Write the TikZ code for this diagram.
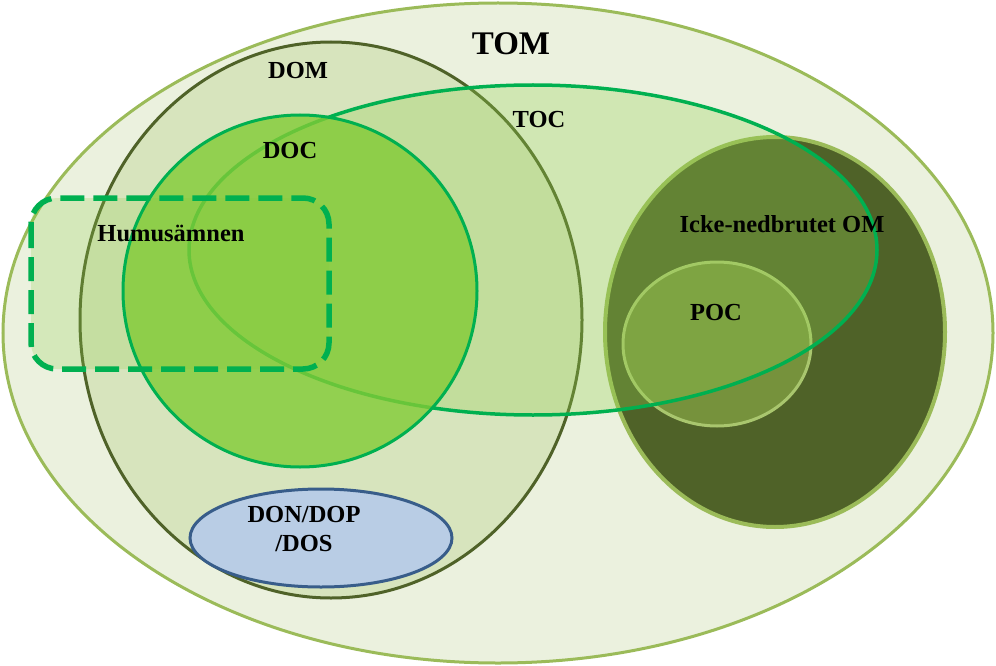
\documentclass[tikz,border=0pt]{standalone}
\usepackage{fontspec}
\setmainfont{Liberation Serif}
\definecolor{tomfill}{HTML}{EBF1DE}
\definecolor{tomline}{HTML}{9BBB59}
\definecolor{domfill}{HTML}{D7E4BD}
\definecolor{domline}{HTML}{4F6228}
\definecolor{ocgreen}{HTML}{92D050}
\definecolor{ocline}{HTML}{00B050}
\definecolor{docfill}{HTML}{81CB35}
\definecolor{omfill}{HTML}{4F6228}
\definecolor{pocfill}{HTML}{76923C}
\definecolor{pocline}{HTML}{A9C66E}
\definecolor{donfill}{HTML}{B9CDE5}
\definecolor{donline}{HTML}{385D8A}
\tikzset{
  lbl/.style={anchor=base, font=\bfseries\fontsize{24.5}{29}\selectfont, align=center},
  pool/.style={line width=3pt}
}
\begin{document}
\begin{tikzpicture}[x=1pt, y=-1pt]
  \useasboundingbox (0, 0) rectangle (996, 666);
  % outer pools
  \filldraw[pool, fill=tomfill, draw=tomline] (498, 333) ellipse [x radius=495, y radius=330];
  \filldraw[pool, fill=domfill, draw=domline] (331, 320) ellipse [x radius=251, y radius=278];
  \fill[ocgreen, opacity=0.25, rounded corners=26pt] (31, 198) rectangle (329, 369);
  % particulate side
  \filldraw[line width=4pt, fill=omfill, draw=tomline] (775, 332) ellipse [x radius=170, y radius=195];
  \filldraw[line width=3pt, fill=pocfill, draw=pocline] (717, 344) ellipse [x radius=94, y radius=82];
  % carbon pools
  \filldraw[line width=3.5pt, fill=ocgreen, fill opacity=0.3, draw=ocline] (533, 250) ellipse [x radius=344, y radius=165];
  \filldraw[pool, fill=docfill, fill opacity=0.8, draw=ocline] (300, 291) ellipse [x radius=177, y radius=176];
  \draw[line width=5.5pt, ocline, dash pattern=on 24pt off 9pt, rounded corners=26pt] (31, 198) rectangle (329, 369);
  \filldraw[pool, fill=donfill, draw=donline] (321, 538) ellipse [x radius=131, y radius=49];
  % labels
  \node (tom) at (511, 55) [lbl, font=\bfseries\fontsize{33}{38}\selectfont] {TOM};
  \node (dom) at (298, 79) [lbl] {DOM};
  \node (toc) at (539, 128) [lbl] {TOC};
  \node (doc) at (290, 159) [lbl] {DOC};
  \node (humus) at (171, 241) [lbl] {Humusämnen};
  \node (om) at (782, 232) [lbl] {Icke-nedbrutet OM};
  \node (poc) at (716, 320) [lbl] {POC};
  \node (don) at (304, 522) [lbl] {DON/DOP};
  \node (dos) at (304, 551) [lbl] {/DOS};
\end{tikzpicture}
\end{document}
